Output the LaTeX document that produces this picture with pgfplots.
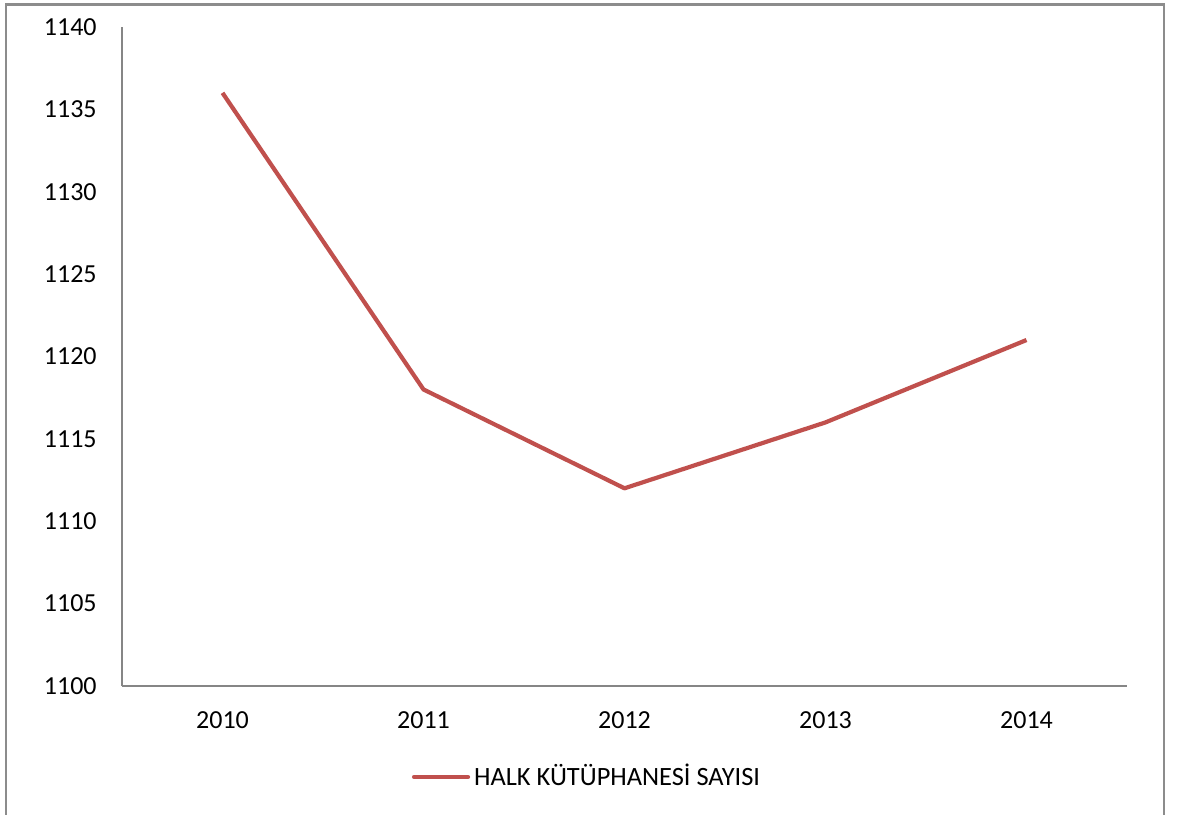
\documentclass[border=0pt]{standalone}
\usepackage{pgfplots}
\pgfplotsset{compat=1.18}
\usepackage{fontspec}
\setmainfont{Carlito}
\definecolor{excelred}{RGB}{192,80,77}
\definecolor{axisgray}{RGB}{134,134,134}
\definecolor{framegray}{RGB}{140,140,140}
\begin{document}
\begin{tikzpicture}
\fontsize{13}{15.6}\selectfont
\begin{axis}[
  scale only axis,
  width=502.5pt, height=329.5pt,
  xmin=-0.5, xmax=4.5,
  ymin=1100, ymax=1140,
  ytick={1100,1105,...,1140},
  xtick={0,1,2,3,4},
  xticklabels={2010,2011,2012,2013,2014},
  axis x line*=bottom, axis y line*=left,
  axis line style={axisgray, line width=0.75pt},
  major tick length=0pt,
  /pgf/number format/assume math mode=true,
  /pgf/number format/1000 sep={},
  ticklabel style={font=\fontsize{13}{15.6}\selectfont, inner sep=0pt},
  yticklabel style={anchor=east, xshift=-12.5pt},
  xticklabel style={anchor=north, yshift=-12.5pt},
  legend style={at={(0.4637,-0.138)}, anchor=center, draw=none, fill=none,
    font=\fontsize{13.2}{15.8}\selectfont, inner sep=0pt},
  legend cell align=left,
  legend image code/.code={\draw[#1, line cap=round] (0pt,0pt) -- (27pt,0pt);},
]
\addplot[excelred, line width=2.1pt, line join=round] coordinates {
  (0,1136) (1,1118) (2,1112) (3,1116) (4,1121)
};
\addlegendentry{HALK KÜTÜPHANESİ SAYISI}
\end{axis}
\draw[framegray, line width=1.1pt]
  ([shift={(-58pt,-80pt)}]current axis.south west) --
  ([shift={(-58pt,340.75pt)}]current axis.south west) --
  ([shift={(521pt,340.75pt)}]current axis.south west) --
  ([shift={(521pt,-80pt)}]current axis.south west);
\pgfresetboundingbox
\path ([shift={(-61pt,-64pt)}]current axis.south west) rectangle ([shift={(528pt,343pt)}]current axis.south west);
\end{tikzpicture}
\end{document}
